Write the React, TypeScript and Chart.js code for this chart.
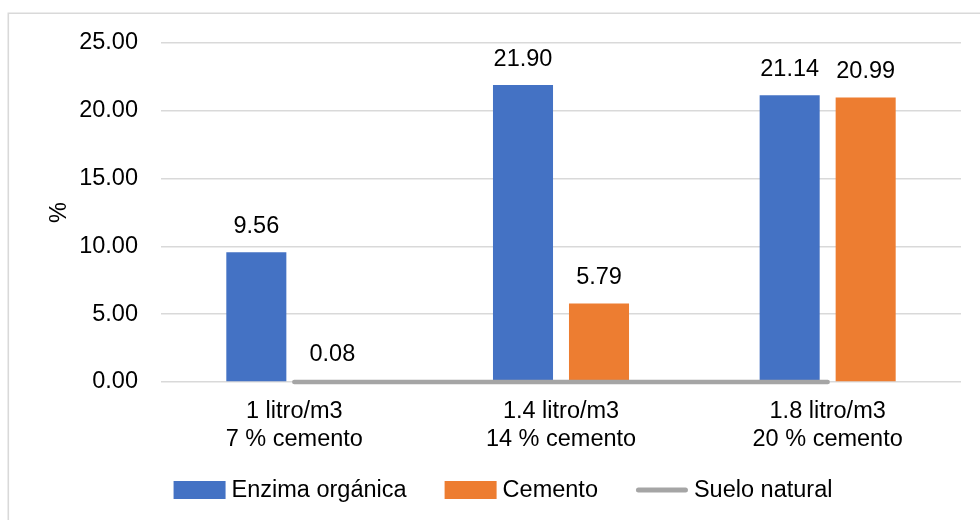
import React, { useEffect, useRef } from "react";
import { Chart, registerables } from "chart.js";

Chart.register(...registerables);

// Dosage categories (two-line axis labels)
const categories: string[][] = [
  ["1 litro/m3", "7 % cemento"],
  ["1.4 litro/m3", "14 % cemento"],
  ["1.8 litro/m3", "20 % cemento"],
];

// Series values (%)
const enzimaValues = [9.56, 21.9, 21.14];
const cementoValues = [0.08, 5.79, 20.99];
const sueloValues = [0, 0, 0];

// Value axis
const yTicks = [0, 5, 10, 15, 20, 25];

const seriesNames = ["Enzima orgánica", "Cemento", "Suelo natural"];
const seriesColors = ["#4472C4", "#ED7D31", "#A5A5A5"];

const FONT_FAMILY = '"Liberation Sans", Arial, sans-serif';
const FONT_SIZE = 23.5;
const TEXT_COLOR = "#000000";
const GRID_COLOR = "#D9D9D9";

// White background plus the frame around the chart object
const framePlugin = {
  id: "frame",
  beforeDraw(chart: Chart) {
    const { ctx, width, height } = chart;
    ctx.save();
    ctx.fillStyle = "#ffffff";
    ctx.fillRect(0, 0, width, height);
    ctx.strokeStyle = GRID_COLOR;
    ctx.lineWidth = 1.6;
    ctx.beginPath();
    ctx.moveTo(8.3, height + 2);
    ctx.lineTo(8.3, 13.3);
    ctx.lineTo(width + 2, 13.3);
    ctx.stroke();
    ctx.restore();
  },
};

// Value labels above the bars
const barLabelPlugin = {
  id: "barLabels",
  afterDatasetsDraw(chart: Chart) {
    const { ctx } = chart;
    ctx.save();
    ctx.font = `${FONT_SIZE}px ${FONT_FAMILY}`;
    ctx.fillStyle = TEXT_COLOR;
    ctx.textAlign = "center";
    ctx.textBaseline = "middle";
    chart.data.datasets.forEach((ds: any, i: number) => {
      if (ds.type !== "bar") return;
      const meta = chart.getDatasetMeta(i);
      meta.data.forEach((el: any, j: number) => {
        const v = ds.data[j] as number;
        ctx.fillText(v.toFixed(2), el.x, el.y - 26);
      });
    });
    ctx.restore();
  },
};

// Rotated "%" axis title and the bottom legend
const annotationsPlugin = {
  id: "annotations",
  afterDraw(chart: Chart) {
    const { ctx, chartArea } = chart;
    ctx.save();
    ctx.font = `${FONT_SIZE}px ${FONT_FAMILY}`;
    ctx.fillStyle = TEXT_COLOR;

    // axis title
    ctx.save();
    ctx.translate(60, (chartArea.top + chartArea.bottom) / 2);
    ctx.rotate(-Math.PI / 2);
    ctx.textAlign = "center";
    ctx.textBaseline = "middle";
    ctx.fillText("%", 0, 0);
    ctx.restore();

    // legend
    const boxW = 52;
    const boxH = 18;
    const textGap = 6;
    const itemGap = 38;
    const legendY = 490;
    const widths = seriesNames.map((n) => boxW + textGap + ctx.measureText(n).width);
    const total = widths.reduce((a, b) => a + b, 0) + itemGap * (widths.length - 1);
    let x = 503 - total / 2;
    ctx.textAlign = "left";
    ctx.textBaseline = "middle";
    seriesNames.forEach((name, i) => {
      if (i < 2) {
        ctx.fillStyle = seriesColors[i];
        ctx.fillRect(x, legendY - boxH / 2, boxW, boxH);
      } else {
        ctx.strokeStyle = seriesColors[i];
        ctx.lineWidth = 5;
        ctx.lineCap = "round";
        ctx.beginPath();
        ctx.moveTo(x + 2.5, legendY);
        ctx.lineTo(x + boxW - 2.5, legendY);
        ctx.stroke();
      }
      ctx.fillStyle = TEXT_COLOR;
      ctx.fillText(name, x + boxW + textGap, legendY + 1);
      x += widths[i] + itemGap;
    });
    ctx.restore();
  },
};

export default function App() {
  const canvasRef = useRef<HTMLCanvasElement | null>(null);

  useEffect(() => {
    if (!canvasRef.current) return;
    const chart = new Chart(canvasRef.current, {
      type: "bar",
      data: {
        labels: categories,
        datasets: [
          {
            type: "bar",
            label: seriesNames[0],
            data: enzimaValues,
            backgroundColor: seriesColors[0],
            categoryPercentage: 0.57,
            barPercentage: 0.79,
            order: 1,
          },
          {
            type: "bar",
            label: seriesNames[1],
            data: cementoValues,
            backgroundColor: seriesColors[1],
            categoryPercentage: 0.57,
            barPercentage: 0.79,
            order: 1,
          },
          {
            type: "line",
            label: seriesNames[2],
            data: sueloValues,
            borderColor: seriesColors[2],
            backgroundColor: seriesColors[2],
            borderWidth: 4.5,
            borderCapStyle: "round",
            pointRadius: 0,
            fill: false,
            clip: 10,
            order: 0,
          },
        ] as any,
      },
      options: {
        animation: false,
        responsive: true,
        maintainAspectRatio: false,
        layout: { padding: { top: 43, right: 19, left: 0, bottom: 0 } },
        plugins: {
          legend: { display: false },
          tooltip: { enabled: false },
        },
        scales: {
          x: {
            offset: true,
            grid: { display: false, drawTicks: false },
            border: { display: false },
            ticks: {
              color: TEXT_COLOR,
              font: { family: FONT_FAMILY, size: FONT_SIZE },
              padding: 15,
              maxRotation: 0,
              autoSkip: false,
            },
            afterFit: (scale: any) => {
              scale.height = 138;
            },
          },
          y: {
            min: yTicks[0],
            max: yTicks[yTicks.length - 1],
            grid: { color: GRID_COLOR, lineWidth: 1.6, drawTicks: false },
            border: { display: false },
            ticks: {
              stepSize: yTicks[1] - yTicks[0],
              color: TEXT_COLOR,
              font: { family: FONT_FAMILY, size: FONT_SIZE },
              padding: 23,
              callback: (v: any) => Number(v).toFixed(2),
            },
            afterFit: (scale: any) => {
              scale.width = 161;
            },
          },
        },
      },
      plugins: [framePlugin, barLabelPlugin, annotationsPlugin],
    });
    return () => chart.destroy();
  }, []);

  return (
    <div style={{ position: "absolute", left: 0, top: 0, width: 980, height: 520 }}>
      <canvas ref={canvasRef} />
    </div>
  );
}
